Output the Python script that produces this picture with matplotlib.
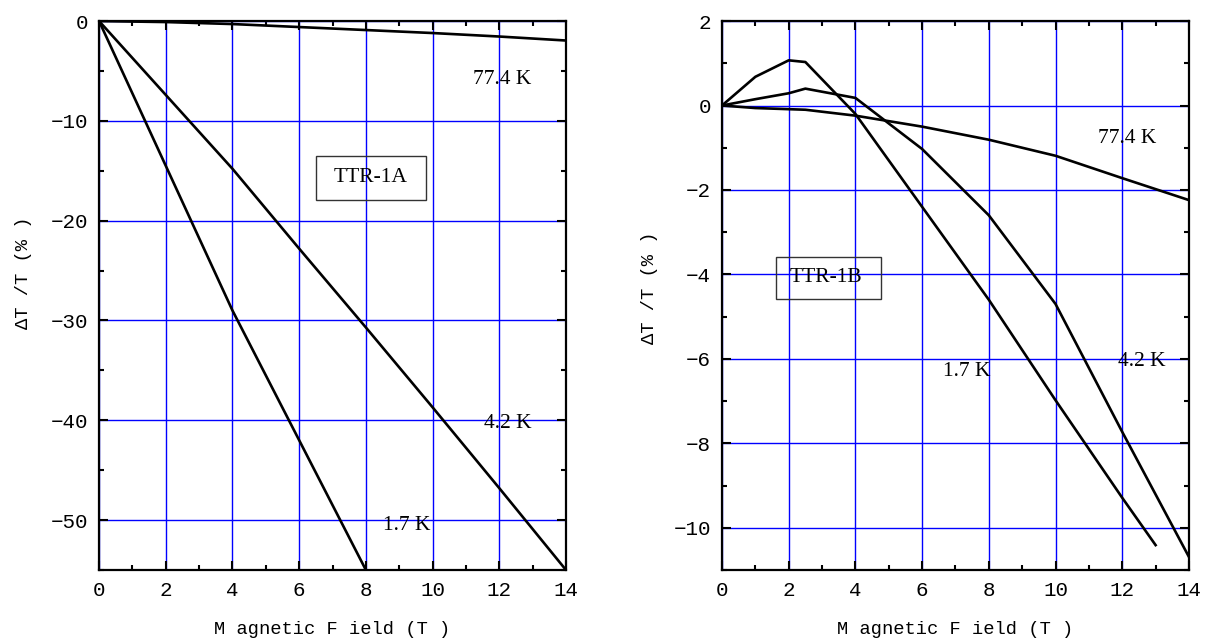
import numpy as np
import matplotlib
matplotlib.use('Agg')
import matplotlib.pyplot as plt
from matplotlib.patches import Rectangle
from matplotlib.ticker import MultipleLocator

# TTR-1A data (left panel)
B_a_774 = [0, 2, 4, 6, 8, 10, 12, 14]
dT_a_774 = [0, -0.1, -0.3, -0.6, -0.9, -1.2, -1.55, -1.95]
B_a_42 = [0, 2, 4, 6, 8, 10, 12, 14]
dT_a_42 = [0, -7.4, -14.8, -22.8, -30.7, -38.7, -46.8, -55]
B_a_17 = [0, 2, 4, 6, 8]
dT_a_17 = [0, -14.5, -29.0, -42.0, -55]

# TTR-1B data (right panel)
B_b_774 = [0, 1, 2.5, 4, 6, 8, 10, 12, 14]
dT_b_774 = [0, -0.06, -0.1, -0.24, -0.5, -0.81, -1.19, -1.72, -2.24]
B_b_42 = [0, 1, 2, 2.5, 4, 6, 8, 10, 12, 14]
dT_b_42 = [0, 0.15, 0.29, 0.4, 0.18, -1.03, -2.6, -4.7, -7.73, -10.69]
B_b_17 = [0, 1, 2, 2.5, 4, 6, 8, 10, 12, 13]
dT_b_17 = [0, 0.68, 1.07, 1.03, -0.2, -2.4, -4.6, -6.98, -9.29, -10.41]

mono = 'Liberation Mono'
serif = 'Liberation Serif'

fig = plt.figure(figsize=(12.11, 6.42), dpi=100)
ax1 = fig.add_axes([0.0818, 0.1121, 0.3856, 0.8551])
ax2 = fig.add_axes([0.5962, 0.1121, 0.3856, 0.8551])


def style(ax, ylim, ymaj, ymin, ylab_x, ylab_y):
    ax.set_xlim(0, 14)
    ax.set_ylim(*ylim)
    ax.xaxis.set_major_locator(MultipleLocator(2))
    ax.xaxis.set_minor_locator(MultipleLocator(1))
    ax.yaxis.set_major_locator(MultipleLocator(ymaj))
    ax.yaxis.set_minor_locator(MultipleLocator(ymin))
    ax.grid(True, which='major', color='#0000ff', linewidth=1.0)
    ax.set_axisbelow(True)
    ax.tick_params(which='both', direction='in', top=True, right=True,
                   width=1.5, labelsize=15, pad=8)
    ax.tick_params(which='major', length=6.5)
    ax.tick_params(which='minor', length=3.5)
    for lab in ax.get_xticklabels() + ax.get_yticklabels():
        lab.set_family(mono)
    for s in ax.spines.values():
        s.set_linewidth(1.6)
    ax.set_xlabel('M agnetic F ield (T )', family=mono, fontsize=13.5)
    ax.set_ylabel('\u0394T /T (% )', family=mono, fontsize=13.5)
    ax.xaxis.set_label_coords(0.5, -0.092)
    ax.yaxis.set_label_coords(ylab_x, ylab_y)


kw = dict(color='black', linewidth=1.9, clip_on=True)
fs = 15.5

# left panel
ax1.plot(B_a_774, dT_a_774, **kw)
ax1.plot(B_a_42, dT_a_42, **kw)
ax1.plot(B_a_17, dT_a_17, **kw)
style(ax1, (-55, 0), 10, 5, -0.144, 0.541)
ax1.text(11.2, -5.9, '77.4 K', family=serif, fontsize=fs, va='center')
ax1.text(11.55, -40.3, '4.2 K', family=serif, fontsize=fs, va='center')
ax1.text(8.5, -50.5, '1.7 K', family=serif, fontsize=fs, va='center')
ax1.add_patch(Rectangle((6.5, -17.9), 3.3, 4.4, fill=False, edgecolor='#333333',
                        linewidth=1.0, zorder=3))
ax1.text(8.15, -15.7, 'TTR-1A', family=serif, fontsize=fs, ha='center', va='center')

# right panel
ax2.plot(B_b_774, dT_b_774, **kw)
ax2.plot(B_b_42, dT_b_42, **kw)
ax2.plot(B_b_17, dT_b_17, **kw)
style(ax2, (-11, 2), 2, 1, -0.137, 0.514)
ax2.text(11.27, -0.77, '77.4 K', family=serif, fontsize=fs, va='center')
ax2.text(11.86, -6.07, '4.2 K', family=serif, fontsize=fs, va='center')
ax2.text(6.62, -6.31, '1.7 K', family=serif, fontsize=fs, va='center')
ax2.add_patch(Rectangle((1.62, -4.58), 3.15, 0.99, fill=False, edgecolor='#333333',
                        linewidth=1.0, zorder=3))
ax2.text(3.12, -4.07, 'TTR-1B', family=serif, fontsize=fs, ha='center', va='center')

plt.savefig('out.png', dpi=100)
